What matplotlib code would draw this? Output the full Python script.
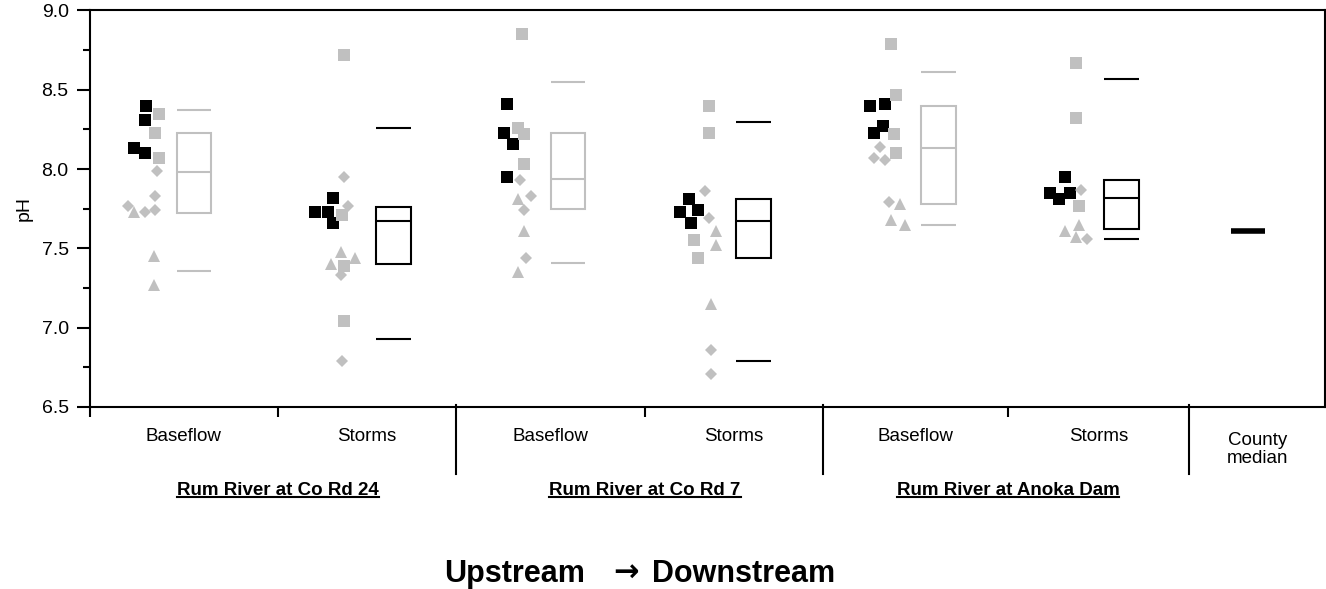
import matplotlib
matplotlib.use("Agg")
import matplotlib.pyplot as plt
from matplotlib.patches import Rectangle
from matplotlib.lines import Line2D

plt.rcParams['font.family'] = ['Liberation Sans', 'DejaVu Sans']

# sample types and sites, upstream -> downstream
categories = ['Baseflow', 'Storms', 'Baseflow', 'Storms', 'Baseflow', 'Storms']
sites = ['Rum River at Co Rd 24', 'Rum River at Co Rd 7', 'Rum River at Anoka Dam']

# pH readings, one list per category
# latest year (black squares)
latest_sq = [
    [8.40, 8.31, 8.13, 8.10],
    [7.82, 7.73, 7.73, 7.66],
    [8.41, 8.23, 8.16, 7.95],
    [7.81, 7.73, 7.74, 7.66],
    [8.40, 8.41, 8.27, 8.23],
    [7.95, 7.85, 7.85, 7.81],
]
# earlier years (grey squares, diamonds, triangles)
older_sq = [
    [8.35, 8.23, 8.07],
    [8.72, 7.71, 7.39, 7.04],
    [8.85, 8.26, 8.22, 8.03],
    [8.40, 8.23, 7.55, 7.44],
    [8.79, 8.47, 8.22, 8.10],
    [8.67, 8.32, 7.77],
]
older_diamond = [
    [7.99, 7.83, 7.77, 7.73, 7.74],
    [7.95, 7.77, 7.33, 6.79],
    [7.93, 7.83, 7.74, 7.44],
    [7.86, 7.69, 6.86, 6.71],
    [8.14, 8.07, 8.06, 7.79],
    [7.87, 7.56],
]
older_tri = [
    [7.73, 7.45, 7.27],
    [7.48, 7.40, 7.44],
    [7.81, 7.61, 7.35],
    [7.61, 7.52, 7.15],
    [7.78, 7.68, 7.65],
    [7.65, 7.61, 7.57],
]

# summary boxes: low whisker, 25th pct, median, 75th pct, high whisker
box_low = [7.36, 6.93, 7.41, 6.79, 7.65, 7.56]
box_q1 = [7.72, 7.40, 7.75, 7.44, 7.78, 7.62]
box_med = [7.98, 7.67, 7.94, 7.67, 8.13, 7.82]
box_q3 = [8.23, 7.76, 8.23, 7.81, 8.40, 7.93]
box_high = [8.37, 8.26, 8.55, 8.30, 8.61, 8.57]
county_median = 7.61

# layout: category edges, box centers, point scatter offsets from box center
cat_edges = [0, 1.03, 2.0, 3.03, 4.0, 5.01, 6.0, 6.74]
box_x = [0.57, 1.66, 2.61, 3.62, 4.63, 5.63]
box_w = 0.19
latest_dx = [
    [-0.26, -0.27, -0.33, -0.27],
    [-0.33, -0.43, -0.36, -0.33],
    [-0.33, -0.35, -0.30, -0.33],
    [-0.35, -0.40, -0.30, -0.34],
    [-0.37, -0.29, -0.30, -0.35],
    [-0.31, -0.39, -0.28, -0.34],
]
older_sq_dx = [
    [-0.19, -0.21, -0.19],
    [-0.27, -0.28, -0.27, -0.27],
    [-0.25, -0.27, -0.24, -0.24],
    [-0.24, -0.24, -0.32, -0.30],
    [-0.26, -0.23, -0.24, -0.23],
    [-0.25, -0.25, -0.23],
]
older_diamond_dx = [
    [-0.20, -0.21, -0.36, -0.27, -0.21],
    [-0.27, -0.25, -0.29, -0.28],
    [-0.26, -0.20, -0.24, -0.23],
    [-0.26, -0.24, -0.23, -0.23],
    [-0.32, -0.35, -0.29, -0.27],
    [-0.22, -0.19],
]
older_tri_dx = [
    [-0.33, -0.22, -0.22],
    [-0.29, -0.34, -0.21],
    [-0.27, -0.24, -0.27],
    [-0.20, -0.20, -0.23],
    [-0.21, -0.26, -0.18],
    [-0.23, -0.31, -0.25],
]

grey = '#c0c0c0'

fig = plt.figure(figsize=(13.26, 5.89), dpi=100)
ax = fig.add_axes([0.0675, 0.309, 0.9318, 0.6732])

# scatter of individual samples
for i in range(len(categories)):
    cx = box_x[i]
    ax.plot([cx + d for d in latest_dx[i]], latest_sq[i], 's', color='black',
            markersize=8.6, markeredgewidth=0, zorder=3)
    ax.plot([cx + d for d in older_sq_dx[i]], older_sq[i], 's', color=grey,
            markersize=8.4, markeredgewidth=0, zorder=4)
    ax.plot([cx + d for d in older_diamond_dx[i]], older_diamond[i], 'D', color=grey,
            markersize=6.2, markeredgewidth=0, zorder=4)
    ax.plot([cx + d for d in older_tri_dx[i]], older_tri[i], '^', color=grey,
            markersize=9.2, markeredgewidth=0, zorder=4)

# boxes with whisker ends
for i in range(len(categories)):
    c = grey if categories[i] == 'Baseflow' else 'black'
    x0 = box_x[i] - box_w / 2
    ax.add_patch(Rectangle((x0, box_q1[i]), box_w, box_q3[i] - box_q1[i],
                           facecolor='none', edgecolor=c, linewidth=1.5, zorder=2))
    for v in (box_med[i], box_low[i], box_high[i]):
        ax.plot([x0, x0 + box_w], [v, v], color=c, linewidth=1.5,
                solid_capstyle='butt', zorder=2)

# county median bar
ax.plot([6.32 - box_w / 2, 6.32 + box_w / 2], [county_median, county_median],
        color='black', linewidth=4, solid_capstyle='butt', zorder=2)

ax.set_xlim(cat_edges[0], cat_edges[-1])
ax.set_ylim(6.5, 9.0)
ax.set_yticks([6.5, 7.0, 7.5, 8.0, 8.5, 9.0])
ax.set_yticklabels(['6.5', '7.0', '7.5', '8.0', '8.5', '9.0'], fontsize=14)
ax.set_yticks([6.75, 7.25, 7.75, 8.25, 8.75], minor=True)
ax.tick_params(axis='y', which='major', direction='out', length=9.5, width=1.5, pad=5.5)
ax.tick_params(axis='y', which='minor', direction='out', length=5, width=1.5)

ax.set_xticks([cat_edges[0], cat_edges[1], cat_edges[3], cat_edges[5]])
ax.set_xticklabels([])
ax.tick_params(axis='x', direction='out', length=7.5, width=1.5)

for s in ax.spines.values():
    s.set_linewidth(1.5)

ax.set_ylabel('pH', fontsize=14)
ax.yaxis.set_label_coords(-0.046, 0.5)

# group dividers below the axis
xt = ax.get_xaxis_transform()
for e in (cat_edges[2], cat_edges[4], cat_edges[6]):
    ax.plot([e, e], [0.005, -0.168], transform=xt, color='black', linewidth=1.5,
            clip_on=False)

# category labels
for i, name in enumerate(categories):
    mid = (cat_edges[i] + cat_edges[i + 1]) / 2
    ax.text(mid, -0.075, name, transform=xt, ha='center', va='center', fontsize=13.5)
ax.text((cat_edges[6] + cat_edges[7]) / 2, -0.108, 'County\nmedian', transform=xt,
        ha='center', va='center', fontsize=13.5, linespacing=1.1)

# site names, bold and underlined
site_texts = []
for k, name in enumerate(sites):
    t = ax.text(cat_edges[2 * k + 1], -0.222, name, transform=xt, ha='center',
                va='baseline', fontsize=13.5, fontweight='bold')
    site_texts.append(t)

# direction caption
fig.text(0.4412, 0.012, 'Upstream', ha='right', va='baseline',
         fontsize=22, fontweight='bold')
fig.text(0.4720, 0.012, '\u2192', ha='center', va='baseline',
         fontsize=22, fontweight='bold', family='DejaVu Sans')
fig.text(0.4917, 0.012, 'Downstream', ha='left', va='baseline',
         fontsize=22, fontweight='bold')

fig.canvas.draw()
renderer = fig.canvas.get_renderer()
W, H = fig.bbox.width, fig.bbox.height
base_y = ax.transAxes.transform((0, -0.222))[1] - 2
for t in site_texts:
    bb = t.get_window_extent(renderer)
    fig.add_artist(Line2D([bb.x0 / W, bb.x1 / W], [base_y / H, base_y / H],
                          transform=fig.transFigure, color='black', linewidth=1.5))

fig.savefig('out.png', dpi=100)
plt.close(fig)
